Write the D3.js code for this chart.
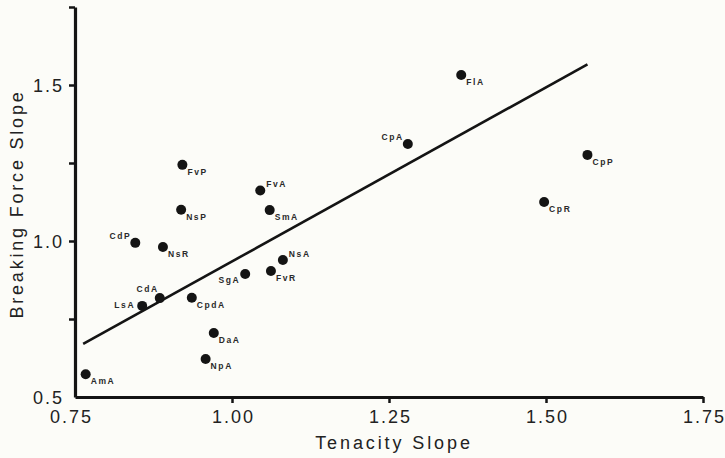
<!DOCTYPE html>
<html>
<head>
<meta charset="utf-8">
<script src="https://cdn.jsdelivr.net/npm/d3@7"></script>
<style>
  html, body { margin: 0; padding: 0; background: #fcfcf8; }
  svg { display: block; }
</style>
</head>
<body>
<svg id="chart" width="725" height="458"></svg>
<script>
// ---- data ----
const species = ["AmA","LsA","CdA","CpdA","CdP","NsR","NsP","FvP","DaA","NpA","SgA","FvR","NsA","FvA","SmA","CpA","FlA","CpP","CpR"];
const tenacitySlope = [0.767,0.857,0.885,0.936,0.846,0.890,0.919,0.921,0.971,0.958,1.021,1.062,1.081,1.045,1.060,1.280,1.365,1.566,1.497];
const breakingForceSlope = [0.573,0.792,0.817,0.818,0.994,0.981,1.100,1.244,0.705,0.622,0.894,0.904,0.939,1.162,1.099,1.311,1.532,1.276,1.125];
const labelPlacement = ["br","l","t","br","tl","br","br","br","br","br","bl","br","tr","tr","br","tl","br","br","br"];
const fitX = [0.763, 1.566];
const fitY = [0.670, 1.566];
const xTicks = [0.75, 1.00, 1.25, 1.50, 1.75];
const xTickLabels = ["0.75","1.00","1.25","1.50","1.75"];
const yTicks = [0.5, 0.75, 1.0, 1.25, 1.5, 1.75];
const yTickLabels = ["0.5","","1.0","","1.5",""];

// ---- layout ----
const svg = d3.select("#chart");
const x = d3.scaleLinear().domain([0.75, 1.75]).range([75, 703]);
const y = d3.scaleLinear().domain([0.5, 1.75]).range([397, 7]);
const ink = "#141414";
const font = "'Liberation Sans', Arial, sans-serif";

// axes
const xAxis = d3.axisBottom(x).tickValues(xTicks)
  .tickFormat((d,i) => xTickLabels[i]).tickSize(6).tickSizeOuter(0).tickPadding(7);
const yAxis = d3.axisLeft(y).tickValues(yTicks)
  .tickFormat((d,i) => yTickLabels[i]).tickSize(6).tickSizeOuter(0).tickPadding(5);

const gx = svg.append("g").attr("transform", "translate(0,397)").call(xAxis);
const gy = svg.append("g").attr("transform", "translate(75,0)").call(yAxis);

[gx, gy].forEach(g => {
  g.select(".domain").attr("stroke", ink).attr("stroke-width", 3.2);
  g.selectAll(".tick line").attr("stroke", ink).attr("stroke-width", 2.5);
  g.selectAll(".tick text").attr("fill", "#222")
    .style("font-family", font)
    .style("font-size", "18px")
    .style("letter-spacing", "2px");
});
gx.selectAll(".tick text").attr("dx", 1);
gx.selectAll(".tick").filter(d => d === 0.75).select("line").remove();
gx.selectAll(".tick").filter(d => d === 0.75).select("text").attr("dx", -4);
gy.selectAll(".tick").filter(d => d === 0.5).select("line").remove();
gy.selectAll(".tick text").attr("dy", "0.36em");

// axis titles
svg.append("text")
  .attr("x", 394).attr("y", 449)
  .attr("text-anchor", "middle")
  .attr("fill", "#222")
  .style("font-family", font)
  .style("font-size", "18px")
  .style("letter-spacing", "2.9px")
  .text("Tenacity Slope");

svg.append("text")
  .attr("transform", "translate(23,204) rotate(-90)")
  .attr("text-anchor", "middle")
  .attr("fill", "#222")
  .style("font-family", font)
  .style("font-size", "18px")
  .style("letter-spacing", "2.8px")
  .text("Breaking Force Slope");

// regression line
svg.append("line")
  .attr("x1", x(fitX[0])).attr("y1", y(fitY[0]))
  .attr("x2", x(fitX[1])).attr("y2", y(fitY[1]))
  .attr("stroke", ink).attr("stroke-width", 2.6);

// points
const pts = species.map((s, i) => ({ s, tx: tenacitySlope[i], by: breakingForceSlope[i], p: labelPlacement[i] }));
svg.append("g").selectAll("circle").data(pts).join("circle")
  .attr("cx", d => x(d.tx)).attr("cy", d => y(d.by))
  .attr("r", 5).attr("fill", ink);

const offsets = {
  br: { dx: 5, dy: 10, anchor: "start" },
  tr: { dx: 6, dy: -3, anchor: "start" },
  l:  { dx: -7, dy: 2, anchor: "end" },
  t:  { dx: -1, dy: -6, anchor: "end" },
  tl: { dx: -4, dy: -4, anchor: "end" },
  bl: { dx: -5, dy: 9, anchor: "end" }
};
svg.append("g").selectAll("text").data(pts).join("text")
  .attr("x", d => x(d.tx) + offsets[d.p].dx)
  .attr("y", d => y(d.by) + offsets[d.p].dy)
  .attr("text-anchor", d => offsets[d.p].anchor)
  .attr("fill", "#2a2a2a")
  .style("font-family", font)
  .style("font-size", "8.5px")
  .style("font-weight", "bold")
  .style("letter-spacing", "1.6px")
  .text(d => d.s);
</script>
</body>
</html>
